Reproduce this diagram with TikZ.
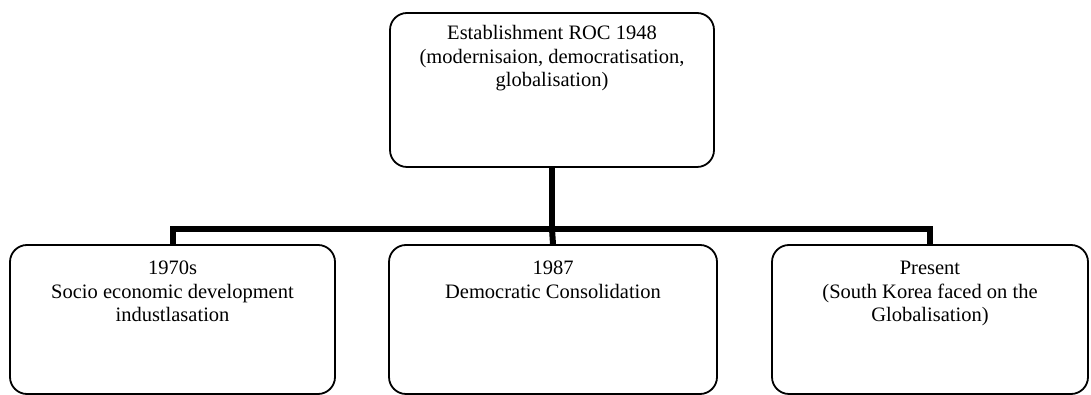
\documentclass[tikz,border=0pt]{standalone}
\usepackage{fontspec}
\setmainfont{Liberation Serif}
\usetikzlibrary{positioning}

\begin{document}
\begin{tikzpicture}[x=1pt,y=1pt,
  stage/.style={draw, line width=1.8pt, rounded corners=17pt, inner sep=0pt},
  stagetext/.style={align=center, inner sep=0pt, font=\fontsize{20.5}{23.5}\selectfont},
  link/.style={line width=6pt, line join=miter}]
\useasboundingbox (0,0) rectangle (1091,395);

\node[stage, minimum width=324pt, minimum height=154pt] (roc) at (552,305) {};
\node[stagetext, below=13pt of roc.north] (roctext) {Establishment ROC 1948\\(modernisaion, democratisation,\\globalisation)};

\node[stage, minimum width=325pt, minimum height=149pt] (seventies) at (172.5,75.5) {};
\node[stage, minimum width=328pt, minimum height=149pt] (eighties) at (553,75.5) {};
\node[stage, minimum width=316pt, minimum height=149pt] (present) at (930,75.5) {};
\node[stagetext, below=17pt of seventies.north] (seventiestext) {1970s\\Socio economic development\\industlasation};
\node[stagetext, below=17pt of eighties.north] (eightiestext) {1987\\Democratic Consolidation};
\node[stagetext, below=17pt of present.north] (presenttext) {Present\\(South Korea faced on the\\Globalisation)};

\coordinate (bar) at (552,166);
\draw[link] (roc.south) -- (bar);
\draw[link] (seventies.north) |- (bar) -| (present.north);
\draw[link] (bar) -- (eighties.north);
\end{tikzpicture}
\end{document}
